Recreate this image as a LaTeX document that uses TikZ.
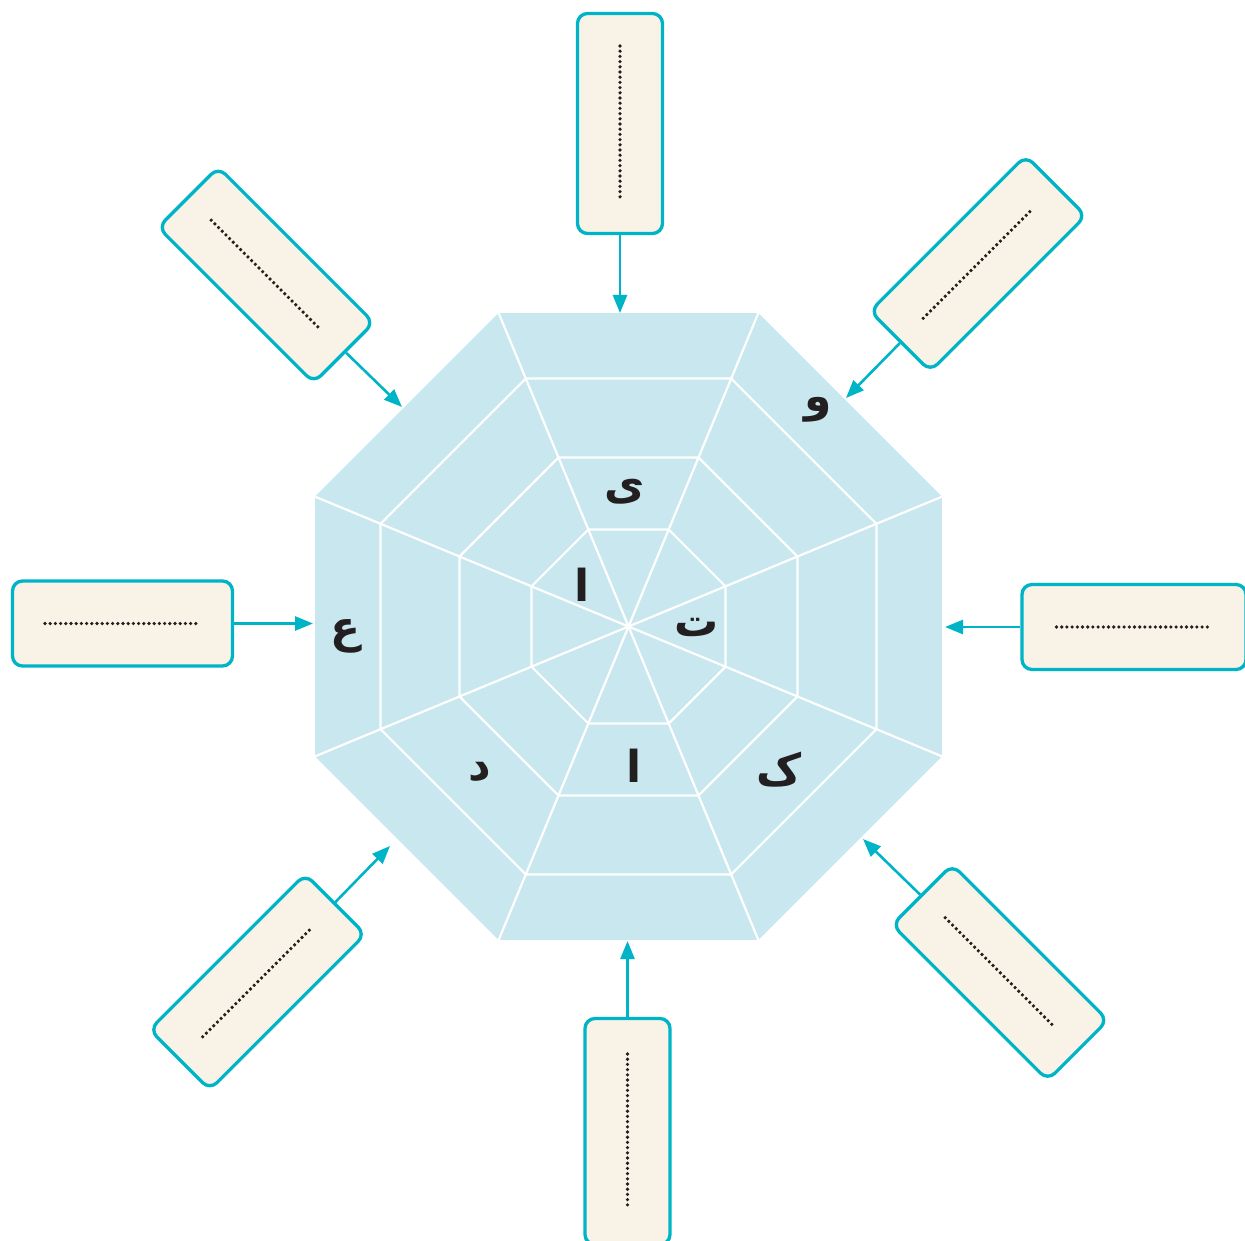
\documentclass[tikz,border=0pt]{standalone}
\usepackage{fontspec}
\newfontfamily\arabicfont[Script=Arabic]{DejaVu Sans}
\usetikzlibrary{arrows.meta,calc}
\definecolor{webblue}{HTML}{C8E7EE}
\definecolor{boxfill}{HTML}{F8F3E6}
\definecolor{cyanline}{HTML}{00B4C8}
\definecolor{dotcol}{HTML}{231F20}
\begin{document}
\begin{tikzpicture}[x=1pt,y=-1pt,
  box/.style={draw=cyanline, line width=3.3pt, fill=boxfill, rounded corners=10pt, inner sep=0pt},
  hbox/.style={box, minimum width=220pt, minimum height=85pt},
  vbox/.style={box, minimum width=85pt, minimum height=220pt},
  blank/.style={dotcol, line width=3.6pt, line cap=round, dash pattern=on 0pt off 5.2pt},
  arr/.style={cyanline, line width=2.6pt, -{Triangle[length=18pt,width=14pt]}},
  webline/.style={white, line width=2.2pt},
  letter/.style={font=\arabicfont\bfseries\fontsize{44}{48}\selectfont, text=dotcol, inner sep=0pt}]
\useasboundingbox (0,0) rectangle (1245,1241);

% octagon web
\begin{scope}[shift={(628.5,626.5)}]
  \fill[webblue] (22.5:339.3) \foreach \a in {67.5,112.5,...,337.5} { -- (\a:339.3) } -- cycle;
  \foreach \r in {105,182.9,268.4} {
    \draw[webline, line join=miter] (22.5:\r) \foreach \a in {67.5,112.5,...,337.5} { -- (\a:\r) } -- cycle;
  }
  \foreach \a in {22.5,67.5,...,337.5} {
    \draw[webline] (0,0) -- (\a:339.3);
  }
\end{scope}

% letters
\node[letter] (lw) at (818,410) {و};
\node[letter] (ly) at (625,492) {ی};
\node[letter] (la1) at (582,585) {ا};
\node[letter] (lt) at (697,627) {ت};
\node[letter] (la2) at (634,766) {ا};
\node[letter] (lk) at (779,770) {ک};
\node[letter] (ld) at (480,772) {د};
\node[letter] (le) at (346,636) {ع};

% boxes
\node[vbox] (bt) at (620,123.5) {};
\node[box, minimum width=85pt, minimum height=226pt] (bb) at (627.5,1131.5) {};
\node[hbox] (bl) at (122.5,623.5) {};
\node[box, minimum width=224pt, minimum height=85pt] (br) at (1134,627) {};
\node[hbox, rotate=-45] (btl) at (266,275) {};
\node[hbox, rotate=45] (btr) at (978,263.5) {};
\node[hbox, rotate=45] (bbl) at (257.5,982) {};
\node[hbox, rotate=-45] (bbr) at (1000,972.5) {};

% dotted blanks
\foreach \n in {bt,bb} {
  \draw[blank] ($(\n.center)!77.5pt!(\n.north)$) -- ($(\n.center)!77.5pt!(\n.south)$);
}
\foreach \n in {bl,br,btl,btr,bbl,bbr} {
  \draw[blank] ($(\n.center)!77.5pt!(\n.west)$) -- ($(\n.center)!77.5pt!(\n.east)$);
}

% arrow tips
\coordinate (tT) at (620,313);
\coordinate (tB) at (627.5,941);
\coordinate (tL) at (313,623.5);
\coordinate (tR) at (945,627);
\coordinate (tTL) at (402,407);
\coordinate (tTR) at (846,398);
\coordinate (tBL) at (390,846);
\coordinate (tBR) at (863,839);

\draw[arr] (bt) -- (tT);
\draw[arr] (bb) -- (tB);
\draw[arr] (bl) -- (tL);
\draw[arr] (br) -- (tR);
\draw[arr] (btl) -- (tTL);
\draw[arr] (btr) -- (tTR);
\draw[arr] (bbl) -- (tBL);
\draw[arr] (bbr) -- (tBR);
\end{tikzpicture}
\end{document}
